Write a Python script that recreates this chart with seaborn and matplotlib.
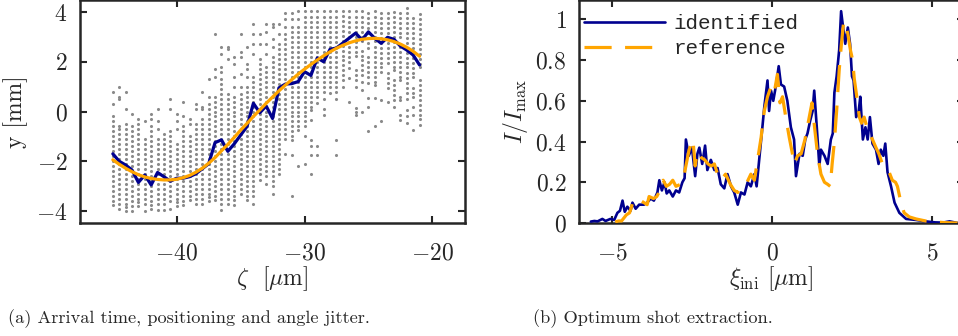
import numpy as np
import pandas as pd
import matplotlib
matplotlib.use("Agg")
import matplotlib.pyplot as plt
import seaborn as sns

# ---------------- data: panel (a) ----------------
ZETA = [-45.0, -44.5, -44.0, -43.5, -43.0, -42.5, -42.0, -41.5, -41.0, -40.5,
        -40.0, -39.5, -39.0, -38.5, -38.0, -37.5, -37.0, -36.5, -36.0, -35.5,
        -35.0, -34.5, -34.0, -33.5, -33.0, -32.5, -32.0, -31.5, -31.0, -30.5,
        -30.0, -29.5, -29.0, -28.5, -28.0, -27.5, -27.0, -26.5, -26.0, -25.5,
        -25.0, -24.5, -24.0, -23.5, -23.0, -22.5, -22.0, -21.5, -21.0]

Y_COLS = [
    [0.8, 0.3, -0.2, -0.4, -0.6, -0.8, -1.0, -1.2, -1.4, -1.6, -1.8, -2.0, -2.2, -2.4, -2.6, -2.8, -3.0, -3.2, -3.4, -3.6, -3.75],
    [1.0, 0.6, 0.5, -0.6, -0.7, -0.9, -1.1, -1.3, -1.5, -1.7, -1.9, -2.1, -2.3, -2.5, -2.7, -2.9, -3.1, -3.3, -3.5, -3.7, -3.9],
    [0.8, 0.1, -0.5, -0.7, -0.9, -1.1, -1.3, -1.5, -1.7, -1.9, -2.1, -2.3, -2.5, -2.7, -2.9, -3.1, -3.3, -3.5, -3.7, -3.85, -4.0],
    [-0.1, -0.6, -0.8, -1.0, -1.2, -1.4, -1.6, -1.8, -2.0, -2.2, -2.4, -2.6, -2.8, -3.0, -3.2, -3.4, -3.6, -3.8, -4.0],
    [-0.3, -0.5, -0.7, -0.9, -1.1, -1.3, -1.5, -1.7, -1.9, -2.1, -2.3, -2.5, -2.7, -2.9, -3.1, -3.3, -3.5, -3.65, -3.8],
    [-0.4, -1.1, -1.3, -1.5, -1.7, -1.9, -2.1, -2.3, -2.5, -2.7, -2.9, -3.1, -3.3, -3.5, -3.7, -4.0],
    [-0.1, -0.3, -0.6, -0.8, -1.0, -1.2, -1.4, -1.6, -1.8, -2.0, -2.2, -2.4, -2.6, -2.8, -3.0, -3.2, -3.4, -3.6, -3.75, -3.9],
    [0.1, -0.4, -0.7, -1.1, -1.3, -1.5, -1.7, -1.9, -2.1, -2.3, -2.5, -2.7, -2.9, -3.1, -3.3, -3.5, -3.7, -3.95],
    [-0.9, -1.1, -1.3, -1.5, -1.7, -1.9, -2.1, -2.3, -2.5, -2.7, -2.9, -3.1, -3.3, -3.5, -3.7, -3.95],
    [0.5, 0.1, -0.8, -1.0, -1.2, -1.4, -1.6, -1.8, -2.0, -2.2, -2.4, -2.6, -2.8, -3.0, -3.2, -3.4, -3.6, -3.9],
    [-0.1, -0.4, -0.7, -1.3, -1.5, -1.7, -1.9, -2.1, -2.3, -2.5, -2.7, -2.9, -3.1, -3.3, -3.5, -3.65, -3.8],
    [0.4, -0.2, -0.6, -0.8, -1.0, -1.2, -1.4, -1.6, -1.8, -2.0, -2.2, -2.4, -2.6, -2.8, -3.0, -3.2, -3.4, -3.6, -3.75],
    [-0.3, -0.5, -1.0, -1.2, -1.4, -1.6, -1.8, -2.0, -2.2, -2.4, -2.6, -2.8, -3.0, -3.2, -3.4, -3.55],
    [0.3, 0.1, -0.5, -0.7, -0.9, -1.1, -1.3, -1.5, -1.7, -1.9, -2.1, -2.3, -2.5, -2.7, -2.9, -3.1, -3.3, -3.5, -3.7],
    [0.8, 0.2, 0.1, -0.3, -0.5, -0.7, -0.9, -1.1, -1.3, -1.5, -1.7, -1.9, -2.1, -2.3, -2.5, -2.7, -2.9, -3.1, -3.3, -3.5, -3.7],
    [1.3, 0.6, 0.3, 0.1, -0.1, -0.3, -0.5, -0.7, -0.9, -1.1, -1.3, -1.5, -1.7, -1.9, -2.1, -2.3, -2.5, -2.7, -2.9, -3.1, -3.3, -3.45, -3.6],
    [3.1, 1.7, 1.4, 0.6, 0.4, 0.2, 0.0, -0.2, -0.4, -0.6, -0.8, -1.0, -1.2, -1.4, -1.6, -1.8, -2.0, -2.2, -2.4, -2.6, -2.8, -3.0, -3.2, -3.4, -3.55],
    [2.6, 2.3, 1.8, 1.6, 1.3, 1.1, 0.9, 0.7, 0.5, 0.3, 0.1, -0.1, -0.3, -0.5, -0.7, -0.9, -1.1, -1.3, -1.5, -1.7, -1.9, -2.1, -2.3, -2.5, -2.7, -2.9, -3.1, -3.3, -3.5, -3.7, -3.95],
    [2.6, 2.5, 2.1, 0.7, 0.5, 0.3, 0.1, -0.1, -0.3, -0.5, -0.7, -0.9, -1.1, -1.3, -1.5, -1.7, -1.9, -2.1, -2.3, -2.5, -2.7, -2.9, -3.1, -3.3, -3.5, -3.7],
    [2.2, 1.9, 1.4, 1.0, 0.6, 0.4, 0.2, 0.0, -0.2, -0.4, -0.6, -0.8, -1.0, -1.2, -1.4, -1.6, -1.8, -2.0, -2.2, -2.4, -2.6, -2.8, -3.0, -3.2, -3.4, -3.55, -3.75],
    [3.1, 2.4, 2.2, 1.5, 1.0, 0.7, 0.5, 0.3, 0.1, -0.1, -0.3, -0.5, -0.7, -0.9, -1.1, -1.3, -1.5, -1.7, -1.9, -2.1, -2.3, -2.5, -2.7, -2.9, -3.1, -3.3],
    [2.6, 1.9, 1.7, 1.4, 1.0, 0.8, 0.6, 0.4, 0.2, 0.0, -0.2, -0.4, -0.6, -0.8, -1.0, -1.2, -1.4, -1.6, -1.8, -2.0, -2.2, -2.4, -2.6, -2.8, -3.0, -3.2, -3.4, -3.55],
    [3.5, 3.1, 2.7, 2.3, 1.4, 1.2, 1.0, 0.8, 0.6, 0.4, 0.2, 0.0, -0.2, -0.4, -0.6, -0.8, -1.0, -1.2, -1.4, -1.6, -1.8, -2.0, -2.2, -2.4, -2.6, -2.8, -3.0, -3.2, -3.4, -3.7],
    [3.1, 2.7, 2.1, 1.9, 1.7, 1.5, 1.3, 1.1, 0.9, 0.7, 0.5, 0.3, 0.1, -0.1, -0.3, -0.5, -0.7, -0.9, -1.1, -1.3, -1.5, -1.7, -1.9, -2.1, -2.3, -2.5, -2.75],
    [3.5, 3.2, 2.7, 2.3, 1.8, 1.6, 1.4, 1.2, 1.0, 0.8, 0.6, 0.4, 0.2, 0.0, -0.2, -0.4, -0.6, -0.8, -1.0, -1.2, -1.4, -1.6, -1.8, -2.0, -2.2, -2.4, -2.6, -2.9],
    [3.5, 3.4, 2.9, 2.6, 2.2, 2.0, 1.8, 1.6, 1.4, 1.2, 1.0, 0.8, 0.6, 0.4, 0.2, 0.0, -0.2, -0.4, -0.6, -0.8, -1.0, -1.2, -1.4, -1.6, -1.8, -2.0, -2.2, -2.4, -2.6, -2.8, -3.0, -3.3],
    [3.5, 3.1, 2.7, 2.5, 2.3, 2.1, 1.9, 1.7, 1.5, 1.3, 1.1, 0.9, 0.7, 0.5, 0.3, 0.1, -0.1, -0.3, -0.5, -0.7, -0.9, -1.1, -1.3, -1.5, -1.7, -1.9, -2.1, -2.3, -2.5],
    [3.95, 3.7, 3.4, 3.1, 2.9, 2.7, 2.5, 2.3, 2.1, 1.9, 1.7, 1.5, 1.3, 1.1, 0.9, 0.7, 0.5, 0.3, 0.1, -0.1, -0.3, -0.5, -0.7, -0.9, -1.1, -1.7],
    [3.95, 3.7, 3.4, 3.2, 3.0, 2.8, 2.6, 2.4, 2.2, 2.0, 1.8, 1.6, 1.4, 1.2, 1.0, 0.8, 0.6, 0.4, 0.2, 0.0, -0.2, -0.4, -0.6, -0.8, -1.0, -1.15, -1.75, -3.4],
    [4.05, 3.7, 3.4, 3.2, 3.0, 2.8, 2.6, 2.4, 2.2, 2.0, 1.8, 1.6, 1.4, 1.2, 1.0, 0.8, 0.6, 0.4, 0.2, 0.0, -0.2, -0.4, -0.6, -0.75, -2.2],
    [4.05, 3.8, 3.6, 3.4, 3.2, 3.0, 2.8, 2.6, 2.4, 2.2, 2.0, 1.8, 1.6, 1.4, 1.2, 1.0, 0.8, 0.6, 0.4, 0.2, 0.0, -0.2, -0.4, -0.6, -1.0, -2.1],
    [4.05, 3.8, 3.6, 3.4, 3.2, 3.0, 2.8, 2.6, 2.4, 2.2, 2.0, 1.8, 1.6, 1.4, 1.2, 1.0, 0.8, 0.6, 0.4, 0.2, 0.05, -0.35, -1.15, -1.4, -1.75, -2.5],
    [4.05, 3.8, 3.6, 3.4, 3.2, 3.0, 2.8, 2.6, 2.4, 2.2, 2.0, 1.8, 1.6, 1.4, 1.2, 1.0, 0.8, 0.6, 0.35, -1.4, -1.75],
    [4.05, 3.8, 3.6, 3.4, 3.2, 3.0, 2.8, 2.6, 2.4, 2.2, 2.0, 1.8, 1.6, 1.4, 1.2, 1.0, 0.8, 0.5, 0.1, -0.15],
    [4.05, 3.8, 3.6, 3.4, 3.2, 3.0, 2.8, 2.6, 2.4, 2.2, 2.0, 1.8, 1.6, 1.4, 1.2, 1.0, 0.75],
    [4.05, 3.8, 3.6, 3.4, 3.2, 3.0, 2.8, 2.6, 2.4, 2.2, 2.0, 1.8, 1.6, 1.4, 1.2, 1.0, 0.8, 0.5, -1.15, -1.75],
    [4.05, 3.85, 3.65, 3.45, 3.25, 3.05, 2.85, 2.65, 2.45, 2.25, 2.05, 1.85, 1.65, 1.45, 1.25, 1.0],
    [4.05, 3.8, 3.6, 3.4, 3.2, 3.0, 2.8, 2.6, 2.4, 2.2, 2.0, 1.75, 1.35, 0.4],
    [4.05, 3.8, 3.6, 3.4, 3.2, 3.0, 2.8, 2.6, 2.4, 2.25, 1.65, 1.45, 1.25, 1.0, 0.15, 0.0, -0.15],
    [4.05, 3.8, 3.6, 3.4, 3.2, 3.0, 2.85, 2.45, 2.25, 2.05, 1.85, 1.65, 1.45, 1.2, 0.85, 0.0],
    [3.95, 3.75, 3.55, 3.35, 3.15, 2.95, 2.75, 2.55, 2.2, 2.0, 1.8, 1.6, 1.4, 1.15, 0.55, 0.2, -0.8],
    [4.05, 3.8, 3.6, 3.4, 3.2, 3.0, 2.85, 2.6, 2.4, 2.2, 2.0, 1.8, 1.6, 1.4, 1.2, 1.05, 0.55, -0.6],
    [3.95, 3.75, 3.55, 3.35, 3.15, 2.95, 2.75, 2.55, 2.35, 2.15, 1.95, 1.8, 1.6, 0.45, -0.4],
    [3.95, 3.75, 3.55, 3.35, 3.15, 2.95, 2.75, 2.55, 2.35, 2.15, 1.95, 1.55, 1.35, 1.15, 0.95, 0.4],
    [4.0, 3.8, 3.6, 3.4, 3.2, 3.0, 2.8, 2.6, 2.4, 2.2, 2.0, 1.8, 1.65, 1.25, 1.05, 0.85, 0.65, 0.45, 0.2],
    [3.95, 3.75, 3.55, 3.35, 3.15, 3.0, 2.6, 2.4, 2.2, 2.0, 1.8, 1.6, 1.4, 1.25, 0.6, 0.45, -0.15, -0.35],
    [4.15, 3.95, 3.75, 3.55, 3.35, 3.15, 2.95, 2.75, 2.55, 2.35, 2.15, 1.95, 1.8, 1.55, 1.35, 1.15, 0.95, 0.75, 0.5, 0.05, -0.2, -0.45],
    [3.75, 3.55, 3.35, 3.15, 2.95, 2.75, 2.55, 2.35, 2.15, 1.95, 1.75, 1.55, 1.4, 0.95, 0.75, 0.6, 0.2, -0.15, -0.75],
    [3.9, 3.7, 3.5, 3.3, 3.1, 2.9, 2.7, 2.5, 2.3, 2.1, 1.9, 1.8, 1.25, 1.05, 0.85, 0.65, 0.45, 0.25, 0.05, -0.15, -0.3, -0.55],
]

MEAN_Y = [-1.70, -2.00, -2.15, -2.35, -2.85, -2.55, -2.95, -2.45, -2.62, -2.80,
          -2.68, -2.68, -2.62, -2.50, -2.30, -2.10, -1.25, -1.14, -1.60, -1.30,
          -0.95, -0.60, 0.33, -0.05, 0.22, -0.28, 0.95, 1.10, 1.12, 1.20,
          1.60, 1.45, 2.15, 2.00, 2.50, 2.55, 2.75, 2.95, 3.15, 2.88,
          3.20, 2.94, 2.74, 2.98, 2.90, 2.63, 2.47, 2.27, 1.87]

FIT_Y = [-1.94, -2.12, -2.28, -2.42, -2.54, -2.63, -2.69, -2.73, -2.75, -2.75,
         -2.72, -2.66, -2.57, -2.44, -2.28, -2.08, -1.85, -1.58, -1.32, -1.04,
         -0.75, -0.48, -0.20, 0.06, 0.33, 0.58, 0.83, 1.06, 1.28, 1.50,
         1.70, 1.89, 2.07, 2.24, 2.40, 2.54, 2.66, 2.76, 2.84, 2.90,
         2.93, 2.94, 2.92, 2.88, 2.81, 2.71, 2.58, 2.42, 2.22]

# ---------------- data: panel (b) ----------------
XI_ID = [-5.66, -5.55, -5.45, -5.3, -5.2, -5.05, -4.93, -4.83, -4.75, -4.67,
         -4.6, -4.52, -4.42, -4.36, -4.26, -4.15, -4.0, -3.9, -3.79, -3.69,
         -3.58, -3.52, -3.44, -3.36, -3.29, -3.21, -3.1, -3.0, -2.9, -2.8,
         -2.73, -2.69, -2.6, -2.5, -2.4, -2.33, -2.27, -2.18, -2.09, -2.02,
         -1.91, -1.8, -1.7, -1.6, -1.49, -1.39, -1.28, -1.18, -1.07, -0.97,
         -0.86, -0.76, -0.66, -0.55, -0.48, -0.4, -0.3, -0.24, -0.14, -0.09,
         -0.03, 0.04, 0.13, 0.21, 0.28, 0.38, 0.48, 0.59, 0.69, 0.75,
         0.86, 0.96, 1.04, 1.11, 1.19, 1.27, 1.32, 1.4, 1.48, 1.53,
         1.64, 1.74, 1.84, 1.9, 1.95, 2.02, 2.1, 2.16, 2.23, 2.29,
         2.37, 2.44, 2.5, 2.55, 2.63, 2.71, 2.76, 2.84, 2.92, 2.99,
         3.06, 3.14, 3.25, 3.33, 3.4, 3.48, 3.54, 3.61, 3.72, 3.83,
         3.98, 4.19, 4.5, 4.8, 5.1, 5.34, 5.55, 5.8]
I_ID = [0.007, 0.01, 0.008, 0.02, 0.01, 0.02, 0.015, 0.05, 0.06, 0.11,
        0.055, 0.08, 0.06, 0.1, 0.07, 0.09, 0.09, 0.1, 0.12, 0.11,
        0.15, 0.21, 0.16, 0.2, 0.145, 0.16, 0.13, 0.16, 0.15, 0.2,
        0.22, 0.41, 0.33, 0.37, 0.23, 0.34, 0.37, 0.29, 0.38, 0.26,
        0.31, 0.26, 0.27, 0.19, 0.17, 0.24, 0.18, 0.15, 0.09, 0.15,
        0.14, 0.2, 0.18, 0.24, 0.18, 0.31, 0.47, 0.57, 0.7, 0.55,
        0.65, 0.6, 0.68, 0.77, 0.68, 0.67, 0.6, 0.47, 0.41, 0.23,
        0.34, 0.33, 0.41, 0.44, 0.5, 0.55, 0.65, 0.47, 0.28, 0.36,
        0.33, 0.29, 0.41, 0.44, 0.64, 0.72, 0.85, 1.04, 0.95, 0.88,
        0.96, 0.88, 0.72, 0.7, 0.52, 0.55, 0.62, 0.41, 0.47, 0.41,
        0.52, 0.39, 0.36, 0.29, 0.36, 0.33, 0.39, 0.25, 0.18, 0.1,
        0.05, 0.02, 0.015, 0.008, 0.003, 0.002, 0.008, 0.0]

XI_REF = [-4.9, -4.8, -4.7, -4.55, -4.45, -4.35, -4.2, -4.1, -4.0, -3.9,
          -3.84, -3.7, -3.6, -3.5, -3.4, -3.3, -3.2, -3.1, -3.0, -2.86,
          -2.78, -2.69, -2.59, -2.47, -2.4, -2.33, -2.2, -2.1, -2.0, -1.9,
          -1.8, -1.7, -1.6, -1.45, -1.3, -1.18, -1.07, -0.92, -0.78, -0.66,
          -0.55, -0.45, -0.34, -0.24, -0.14, -0.03, 0.07, 0.17, 0.25, 0.33,
          0.43, 0.54, 0.7, 0.8, 0.91, 1.03, 1.14, 1.25, 1.33, 1.43,
          1.53, 1.64, 1.74, 1.82, 1.88, 1.95, 2.02, 2.1, 2.17, 2.24,
          2.3, 2.37, 2.45, 2.52, 2.57, 2.65, 2.73, 2.8, 2.88, 2.95,
          3.04, 3.14, 3.25, 3.34, 3.45, 3.56, 3.66, 3.76, 3.86, 3.92,
          4.03, 4.13, 4.29, 4.5, 4.8, 5.1, 5.4, 5.8]
I_REF = [0.005, 0.01, 0.01, 0.04, 0.05, 0.1, 0.09, 0.11, 0.1, 0.09,
         0.13, 0.12, 0.13, 0.16, 0.21, 0.18, 0.19, 0.21, 0.18, 0.19,
         0.21, 0.28, 0.36, 0.41, 0.28, 0.35, 0.32, 0.31, 0.29, 0.28,
         0.29, 0.24, 0.21, 0.24, 0.19, 0.16, 0.15, 0.19, 0.2, 0.24,
         0.21, 0.31, 0.42, 0.55, 0.62, 0.67, 0.64, 0.73, 0.59, 0.62,
         0.52, 0.42, 0.29, 0.33, 0.34, 0.41, 0.5, 0.59, 0.47, 0.33,
         0.24, 0.2, 0.19, 0.18, 0.29, 0.4, 0.55, 0.75, 0.88, 0.99,
         0.97, 0.93, 0.85, 0.8, 0.71, 0.62, 0.52, 0.49, 0.52, 0.48,
         0.44, 0.41, 0.37, 0.34, 0.29, 0.27, 0.25, 0.21, 0.2, 0.18,
         0.1, 0.05, 0.03, 0.02, 0.01, 0.005, 0.002, 0.0]

XT_A = [-40, -30, -20]
YT_A = [-4, -2, 0, 2, 4]
XT_B = [-5, 0, 5]
YT_B = [0, 0.2, 0.4, 0.6, 0.8, 1]
YT_B_LABELS = ["0", "0.2", "0.4", "0.6", "0.8", "1"]

# ---------------- style ----------------
sns.set_style("ticks")
plt.rcParams["font.family"] = ["cmr10", "DejaVu Serif"]
plt.rcParams["mathtext.fontset"] = "cm"
plt.rcParams["axes.unicode_minus"] = False

BLUE = "#00008f"
ORANGE = "#ffa500"
GRAY = "#8a8a8a"
DARK = "#262626"

W, H = 958, 336
fig = plt.figure(figsize=(W / 100, H / 100), dpi=100)
ax1 = fig.add_axes([80 / W, (H - 223) / H, 385 / W, 223 / H])
ax2 = fig.add_axes([579 / W, (H - 223) / H, 385 / W, 223 / H])

# panel (a)
scat = pd.DataFrame({"zeta": ZETA, "y": Y_COLS}).explode("y")
scat["y"] = scat["y"].astype(float)
sns.scatterplot(data=scat, x="zeta", y="y", ax=ax1, color=GRAY, s=5,
                linewidth=0, legend=False, zorder=2)
sns.lineplot(x=ZETA, y=MEAN_Y, ax=ax1, color=BLUE, lw=2.3, sort=False,
             estimator=None, zorder=3)
sns.lineplot(x=ZETA, y=FIT_Y, ax=ax1, color=ORANGE, lw=2.3, sort=False,
             estimator=None, zorder=4)
ax1.set_xlim(-47.57, -17.44)
ax1.set_ylim(-4.48, 4.48)
ax1.set_xticks(XT_A, labels=[f"${v}$" for v in XT_A])
ax1.set_yticks(YT_A, labels=[f"${v}$" for v in YT_A])
ax1.set_xlabel(r"$\zeta$  [$\mu$m]", fontsize=17, labelpad=0)
ax1.set_ylabel("y [mm]", fontsize=17, labelpad=6)

# panel (b)
sns.lineplot(x=XI_ID, y=I_ID, ax=ax2, color=BLUE, lw=1.9, sort=False,
             estimator=None, label="identified", zorder=3)
sns.lineplot(x=XI_REF, y=I_REF, ax=ax2, color=ORANGE, lw=2.3, sort=False,
             estimator=None, label="reference", linestyle=(0, (8.5, 4.2)),
             zorder=4)
ax2.set_xlim(-6.03, 6.0)
ax2.set_ylim(0, 1.095)
ax2.set_xticks(XT_B, labels=[f"${v}$" for v in XT_B])
ax2.set_yticks(YT_B, labels=[f"${s}$" for s in YT_B_LABELS])
ax2.set_xlabel(r"$\xi_{\mathrm{ini}}$ [$\mu$m]", fontsize=17, labelpad=0)
ax2.set_ylabel(r"$I/I_{\mathrm{max}}$", fontsize=17, labelpad=4)
leg = ax2.legend(loc="upper left", frameon=False,
                 prop={"family": "Liberation Mono", "size": 15},
                 handlelength=3.9, handletextpad=0.4,
                 bbox_to_anchor=(0.012, 0.937), borderaxespad=0.0,
                 borderpad=0.0, labelspacing=0.3)
for t in leg.get_texts():
    t.set_color(DARK)

for ax in (ax1, ax2):
    for sp in ax.spines.values():
        sp.set_visible(True)
        sp.set_color(DARK)
        sp.set_linewidth(1.8)
    ax.tick_params(direction="in", top=True, right=True, length=5, width=1.5,
                   color=DARK, labelcolor=DARK, labelsize=17)
    ax.tick_params(axis="x", pad=14)
    ax.tick_params(axis="y", pad=9)
    ax.xaxis.label.set_color(DARK)
    ax.yaxis.label.set_color(DARK)

fig.text(8 / W, 0.053, "(a) Arrival time, positioning and angle jitter.",
         fontsize=13.2, va="center", ha="left", color=DARK)
fig.text(533 / W, 0.053, "(b) Optimum shot extraction.",
         fontsize=13.2, va="center", ha="left", color=DARK)

fig.savefig("out.png", dpi=100)
